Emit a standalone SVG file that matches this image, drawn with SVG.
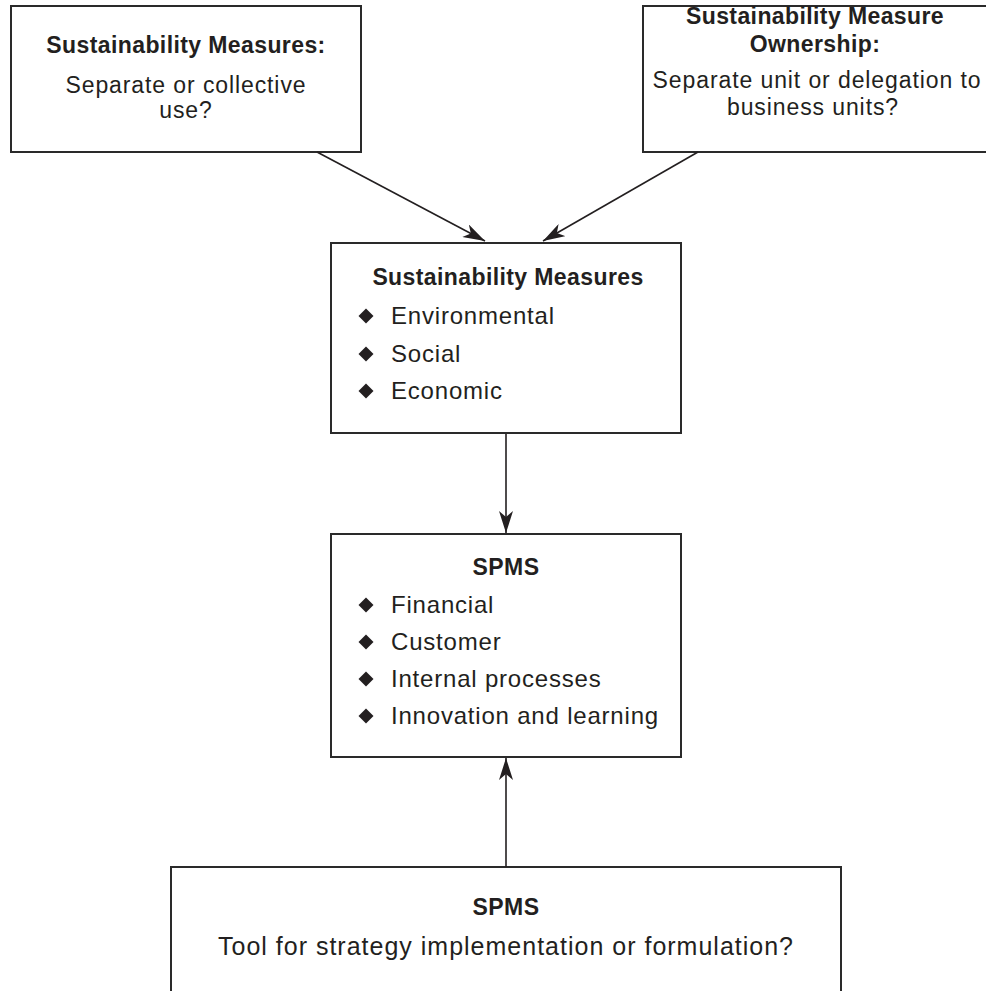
<svg xmlns="http://www.w3.org/2000/svg" width="986" height="991" viewBox="0 0 986 991">
<style>
.box{fill:#fff;stroke:#2a2a2a;stroke-width:2}
.t{font-family:"Liberation Sans",Arial,sans-serif;fill:#231f20}
.b{font-weight:bold;font-size:23px;letter-spacing:0.4px;text-anchor:middle}
.r{font-size:23px;letter-spacing:0.9px}
.c{text-anchor:middle}
.l{font-size:24px;letter-spacing:0.8px}
.con{stroke:#231f20;stroke-width:1.6;fill:none;marker-end:url(#ah)}
.dia{fill:#231f20}
</style>
<defs>
<marker id="ah" viewBox="0 0 22 14" refX="22" refY="7" markerWidth="22" markerHeight="14" markerUnits="userSpaceOnUse" orient="auto">
<path d="M0,0 L22,7 L0,14 L6,7 z" fill="#231f20"/>
</marker>
<path id="d" d="M0,-7.5 L7.5,0 L0,7.5 L-7.5,0 z"/>
</defs>
<g id="n1">
<rect class="box" x="11" y="6" width="350" height="146"/>
<text class="t b" x="186" y="53">Sustainability Measures:</text>
<text class="t r c" x="186" y="93">Separate or collective</text>
<text class="t r c" x="186" y="118">use?</text>
</g>
<g id="n2">
<rect class="box" x="643" y="6" width="360" height="146"/>
<text class="t b" x="815" y="24">Sustainability Measure</text>
<text class="t b" x="815" y="52">Ownership:</text>
<text class="t r c" x="817" y="88">Separate unit or delegation to</text>
<text class="t r c" x="813" y="115">business units?</text>
</g>
<g id="n3">
<rect class="box" x="331" y="243" width="350" height="190"/>
<text class="t b" x="508" y="285">Sustainability Measures</text>
<use href="#d" class="dia" x="366" y="316"/>
<text class="t l" x="391" y="324">Environmental</text>
<use href="#d" class="dia" x="366" y="354"/>
<text class="t l" x="391" y="362">Social</text>
<use href="#d" class="dia" x="366" y="391"/>
<text class="t l" x="391" y="399">Economic</text>
</g>
<g id="n4">
<rect class="box" x="331" y="534" width="350" height="223"/>
<text class="t b" x="506" y="575">SPMS</text>
<use href="#d" class="dia" x="366" y="605"/>
<text class="t l" x="391" y="613">Financial</text>
<use href="#d" class="dia" x="366" y="642"/>
<text class="t l" x="391" y="650">Customer</text>
<use href="#d" class="dia" x="366" y="679"/>
<text class="t l" x="391" y="687">Internal processes</text>
<use href="#d" class="dia" x="366" y="716"/>
<text class="t l" x="391" y="724">Innovation and learning</text>
</g>
<g id="n5">
<rect class="box" x="171" y="867" width="670" height="140"/>
<text class="t b" x="506" y="915">SPMS</text>
<text class="t c" x="506" y="955" font-size="25" letter-spacing="1">Tool for strategy implementation or formulation?</text>
</g>
<g id="connectors">
<line class="con" x1="317" y1="152" x2="485" y2="241"/>
<line class="con" x1="698" y1="152" x2="543" y2="241"/>
<line class="con" x1="506" y1="434" x2="506" y2="533"/>
<line class="con" x1="506" y1="867" x2="506" y2="758"/>
</g>
</svg>
